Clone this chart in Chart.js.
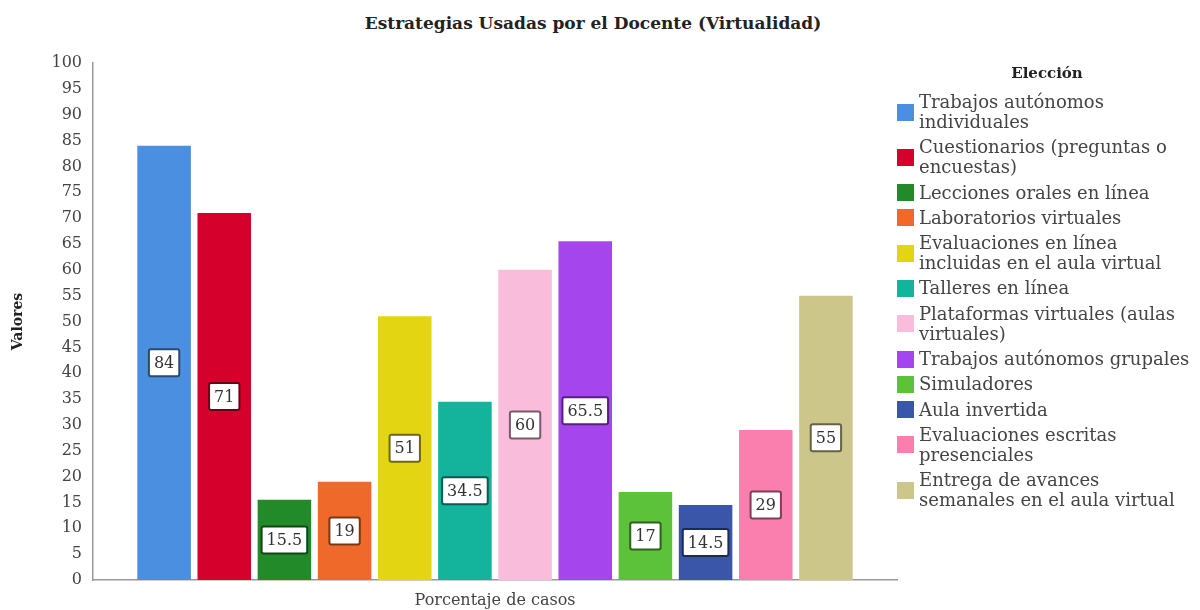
<!DOCTYPE html>
<html>
<head>
<meta charset="utf-8">
<script src="https://cdn.jsdelivr.net/npm/chart.js@4.4.1/dist/chart.umd.min.js"></script>
<style>
  body { margin: 0; background: #fff; }
  #wrap { position: relative; width: 1200px; height: 610px; overflow: hidden; }
  #grafico { position: absolute; left: 0; top: 0; }
  #titulo {
    position: absolute; left: 293px; width: 600px; top: 13px; text-align: center;
    font: bold 17px "DejaVu Serif", serif; color: #222;
  }
  #leyenda { position: absolute; left: 897px; top: 64px; width: 300px; font-family: "DejaVu Serif", serif; }
  #leyenda h4 { margin: 0 0 10px 0; text-align: center; font-size: 15px; font-weight: bold; color: #222; }
  .item { display: flex; align-items: center; margin-bottom: 5.3px; }
  .cuadro { width: 17px; height: 17px; flex: none; margin-right: 5px; }
  .texto { white-space: pre-line; font-size: 18px; line-height: 20px; color: #444; }
</style>
</head>
<body>
<div id="wrap">
  <div id="titulo">Estrategias Usadas por el Docente (Virtualidad)</div>
  <canvas id="grafico" width="1200" height="610"></canvas>
  <div id="leyenda"><h4>Elección</h4></div>
</div>
<script>
// Categorías (con el salto de línea tal como aparece en la leyenda)
const estrategias = [
    "Trabajos autónomos\nindividuales",
    "Cuestionarios (preguntas o\nencuestas)",
    "Lecciones orales en línea",
    "Laboratorios virtuales",
    "Evaluaciones en línea\nincluidas en el aula virtual",
    "Talleres en línea",
    "Plataformas virtuales (aulas\nvirtuales)",
    "Trabajos autónomos grupales",
    "Simuladores",
    "Aula invertida",
    "Evaluaciones escritas\npresenciales",
    "Entrega de avances\nsemanales en el aula virtual"
];
const valores = [84, 71, 15.5, 19, 51, 34.5, 60, 65.5, 17, 14.5, 29, 55];
const colores = ["#4a8fe0", "#d5002c", "#238a2a", "#ef6a2a", "#e3d511", "#13b39c",
                 "#f9bddb", "#a545ee", "#5cc23a", "#3a56a8", "#fb7fae", "#cdc68a"];
const bordesEtiqueta = ["#2a4a70", "#6a0018", "#134515", "#7a3512", "#6e6808", "#0a5a4e",
                        "#7a5a6a", "#55207a", "#2e611d", "#1d2b54", "#7e3f57", "#666245"];
const ticksY = [0, 100, 5];

// Etiquetas en caja blanca al centro de cada barra
const etiquetasCaja = {
    id: "etiquetasCaja",
    afterDatasetsDraw(chart) {
        const ctx = chart.ctx;
        ctx.save();
        ctx.font = "16px 'DejaVu Serif', serif";
        ctx.textAlign = "center";
        ctx.textBaseline = "middle";
        chart.data.datasets.forEach((ds, i) => {
            const bar = chart.getDatasetMeta(i).data[0];
            const { x, y, base } = bar.getProps(["x", "y", "base"], true);
            const cy = (y + base) / 2;
            const txt = String(ds.data[0]);
            const w = ctx.measureText(txt).width + 10;
            const h = 27;
            ctx.beginPath();
            ctx.roundRect(x - w / 2, cy - h / 2, w, h, 2);
            ctx.fillStyle = "#fff";
            ctx.fill();
            ctx.lineWidth = 2;
            ctx.strokeStyle = bordesEtiqueta[i];
            ctx.stroke();
            ctx.fillStyle = "#333";
            ctx.fillText(txt, x, cy + 1);
        });
        ctx.restore();
    }
};

const ctx = document.getElementById("grafico").getContext("2d");
const grafico = new Chart(ctx, {
    type: "bar",
    data: {
        labels: ["Porcentaje de casos"],
        datasets: estrategias.map((nombre, i) => ({
            label: nombre,
            data: [valores[i]],
            backgroundColor: colores[i],
            categoryPercentage: 0.898,
            barPercentage: 0.89
        }))
    },
    options: {
        responsive: false,
        animation: false,
        layout: { padding: { left: 0, top: 63, right: 303, bottom: 0 } },
        plugins: {
            legend: { display: false },
            tooltip: { enabled: false }
        },
        scales: {
            x: {
                grid: { display: false },
                border: { display: true, color: "#999", width: 1.5 },
                ticks: { display: false },
                title: {
                    display: true, text: "Porcentaje de casos", color: "#444",
                    font: { family: "'DejaVu Serif', serif", size: 16 },
                    padding: { top: 0, bottom: 0 }
                },
                afterFit(scale) { scale.height = 30; }
            },
            y: {
                min: ticksY[0], max: ticksY[1],
                grid: { display: false },
                border: { display: true, color: "#999", width: 1.5 },
                ticks: {
                    stepSize: ticksY[2], color: "#444", padding: 3,
                    font: { family: "'DejaVu Serif', serif", size: 16 }
                },
                title: {
                    display: true, text: "Valores", color: "#222",
                    font: { family: "'DejaVu Serif', serif", size: 14, weight: "bold" },
                    padding: { top: 10, bottom: 0 }
                },
                afterFit(scale) { scale.width = 93; }
            }
        }
    },
    plugins: [etiquetasCaja]
});

// Leyenda HTML
const leyenda = document.getElementById("leyenda");
estrategias.forEach((nombre, i) => {
    const item = document.createElement("div");
    item.className = "item";
    item.innerHTML = `<span class="cuadro" style="background:${colores[i]}"></span><span class="texto"></span>`;
    item.querySelector(".texto").textContent = nombre;
    leyenda.appendChild(item);
});
</script>
</body>
</html>
